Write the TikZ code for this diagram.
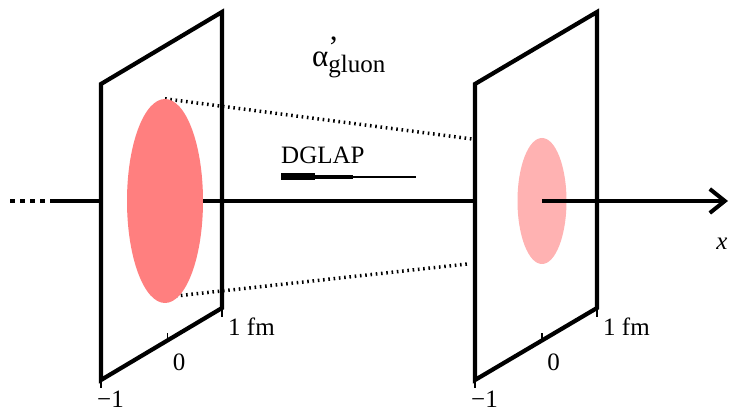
\documentclass[tikz,border=0pt]{standalone}
\usepackage{fontspec}
\setmainfont{Liberation Serif}
\usetikzlibrary{
  arrows.meta,
  calc,
  positioning,
  shapes.geometric
}
\definecolor{ink}{HTML}{000000}
\definecolor{blobdark}{HTML}{FF7F7F}
\definecolor{blobpale}{HTML}{FFB2B2}
\newcommand{\lblsize}{\fontsize{25}{28}\selectfont}
\pgfdeclarelayer{planes}
\pgfdeclarelayer{wires}
\pgfsetlayers{planes,wires,main}
\tikzset{
  plane/.style={
    draw=ink,
    fill=white,
    line width=4.2pt,
    line join=miter
  },
  blob/.style={
    ellipse,
    draw=none,
    inner sep=0pt
  },
  axis/.style={
    draw=ink,
    line width=4pt
  },
  reach/.style={
    draw=ink,
    line width=3.5pt,
    dash pattern=on 1.6pt off 3.7pt
  },
  tickmark/.style={
    draw=ink,
    line width=1.8pt
  },
  ticklabel/.style={
    font=\lblsize,
    inner sep=0pt,
    anchor=north west
  }
}

\begin{document}
\begin{tikzpicture}[x=1pt, y=-1pt]
  \useasboundingbox (0,0) rectangle (732,411);

  % Corners and centres of the two planes.
  \coordinate (ltl) at (101,84);
  \coordinate (ltr) at (222,12);
  \coordinate (lbr) at (222,308);
  \coordinate (lbl) at (101,380);
  \coordinate (rtl) at (475,84);
  \coordinate (rtr) at (597,12);
  \coordinate (rbr) at (597,308);
  \coordinate (rbl) at (475,380);
  \coordinate (lc) at (165,201);
  \coordinate (rc) at (542,201);
  \coordinate (lead) at (10,201);
  \coordinate (leadend) at (50,201);
  \coordinate (tip) at (728,201);
  \coordinate (reachtop) at (472,139);
  \coordinate (reachbot) at (467,264);

  % Left plane, with the axis coming in from far away.
  \begin{pgfonlayer}{planes}
    \draw[axis, dash pattern=on 5pt off 5pt] (lead) -- (leadend);
    \draw[axis] (leadend) -- (lc);
    \draw[plane] (ltl) -- (ltr) -- (lbr) -- (lbl) -- cycle;
    \coordinate (lzero) at ($(lbl)!0.55!(lbr)$);
    \draw[tickmark] (lbl) -- ++(0,8);
    \draw[tickmark] (lzero) -- ++(0,-7);
    \draw[tickmark] (lbr) -- ++(0,9);
  \end{pgfonlayer}
  \node[blob, fill=blobdark, minimum width=76pt, minimum height=204pt]
    (lblob) at (lc) {};
  \node[ticklabel] (lminus) at ($(lbl)+(-4,11)$) {−1};
  \node[ticklabel] (lnull) at ($(lzero)+(5,13)$) {0};
  \node[ticklabel] (lfm) at ($(lbr)+(6,10)$) {1 fm};

  % Spread between the planes.
  \begin{pgfonlayer}{wires}
    \draw[axis] (lblob.center) -- (rc);
    \draw[reach] (lblob.north) -- (reachtop);
    \draw[reach] ($(lblob.south)+(0,-6)$) -- (reachbot);
  \end{pgfonlayer}

  % Right plane.
  \draw[plane] (rtl) -- (rtr) -- (rbr) -- (rbl) -- cycle;
  \coordinate (rzero) at ($(rbl)!0.55!(rbr)$);
  \draw[tickmark] (rbl) -- ++(0,8);
  \draw[tickmark] (rzero) -- ++(0,-7);
  \draw[tickmark] (rbr) -- ++(0,9);
  \node[blob, fill=blobpale, minimum width=49pt, minimum height=126pt]
    (rblob) at (rc) {};
  \draw[axis, -{Straight Barb[length=15pt, width=24pt]}] (rblob.center) -- (tip);
  \node[ticklabel] (rminus) at ($(rbl)+(-4,11)$) {−1};
  \node[ticklabel] (rnull) at ($(rzero)+(5,13)$) {0};
  \node[ticklabel] (rfm) at ($(rbr)+(6,10)$) {1 fm};
  \node[font=\lblsize\itshape, inner sep=0pt] (xlabel) at (722,244) {x};

  % Labels in the gap.
  \node[anchor=base west, inner sep=0pt, font=\fontsize{31}{34}\selectfont]
    (slope) at (312,67)
    {α\rlap{\raisebox{9pt}{’}}\raisebox{-6pt}{\lblsize gluon}};
  \node[anchor=south west, inner sep=0pt, font=\lblsize] (dglap) at (281,164) {DGLAP};
  \coordinate (bar) at ($(dglap.south west)+(0,13)$);
  \draw[line width=7pt] (bar) -- ++(34,0) coordinate (bar2);
  \draw[line width=4pt] (bar2) -- ++(38,0) coordinate (bar3);
  \draw[line width=1.4pt] (bar3) -- ++(63,0);
\end{tikzpicture}
\end{document}
